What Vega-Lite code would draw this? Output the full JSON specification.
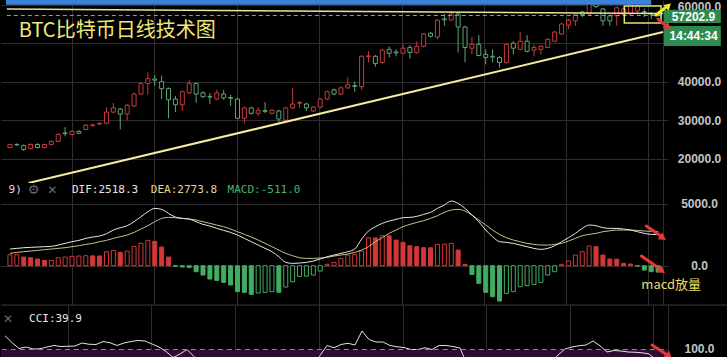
{
"$schema":"https://vega.github.io/schema/vega-lite/v6.json",
"background":"#000000",
"padding":0,
"spacing":0,
"bounds":"flush",
"config":{"view":{"stroke":null},"axis":{"domain":false,"ticks":false,"gridColor":"#2e2e2e","gridWidth":1,"labelColor":"#c4c4c4","labelFont":"Liberation Sans","labelFontSize":12,"labelFontWeight":"bold","labelPadding":31,"labelAlign":"center"}},
"datasets":{
"k":[
{"i":0,"o":22900,"h":23900,"l":22700,"c":23700},{"i":1,"o":23700,"h":24000,"l":23300,"c":23600},{"i":2,"o":23400,"h":23700,"l":22000,"c":22400},{"i":3,"o":22600,"h":24000,"l":22400,"c":23700},{"i":4,"o":23700,"h":24000,"l":22700,"c":22900},{"i":5,"o":22900,"h":23900,"l":22700,"c":23700},{"i":6,"o":23700,"h":24700,"l":23500,"c":24500},{"i":7,"o":24500,"h":26600,"l":24300,"c":26300},{"i":8,"o":26700,"h":28200,"l":25800,"c":26500},{"i":9,"o":26300,"h":27400,"l":26100,"c":27100},
{"i":10,"o":27100,"h":27400,"l":26400,"c":26600},{"i":11,"o":27600,"h":29000,"l":27400,"c":28700},{"i":12,"o":28600,"h":29100,"l":28300,"c":28800},{"i":13,"o":29000,"h":29500,"l":28800,"c":29200},{"i":14,"o":29200,"h":33400,"l":29000,"c":32100},{"i":15,"o":32100,"h":34500,"l":31800,"c":33200},{"i":16,"o":32900,"h":33200,"l":27600,"c":31600},{"i":17,"o":31600,"h":34200,"l":30000,"c":33900},{"i":18,"o":33700,"h":37200,"l":33400,"c":36800},{"i":19,"o":36800,"h":39900,"l":36500,"c":39500},
{"i":20,"o":39500,"h":42400,"l":36600,"c":40800},{"i":21,"o":40700,"h":41600,"l":38900,"c":40400},{"i":22,"o":40000,"h":41600,"l":35500,"c":38200},{"i":23,"o":38200,"h":38500,"l":30500,"c":35300},{"i":24,"o":35500,"h":36300,"l":32100,"c":34000},{"i":25,"o":34000,"h":37700,"l":32400,"c":37400},{"i":26,"o":37100,"h":40500,"l":36800,"c":39500},{"i":27,"o":39500,"h":39800,"l":34500,"c":36800},{"i":28,"o":37100,"h":37500,"l":35800,"c":36100},{"i":29,"o":36200,"h":37100,"l":34200,"c":36000},
{"i":30,"o":35500,"h":37900,"l":35200,"c":37100},{"i":31,"o":36800,"h":37900,"l":35300,"c":35800},{"i":32,"o":35900,"h":36600,"l":33700,"c":35700},{"i":33,"o":35500,"h":35800,"l":30300,"c":30500},{"i":34,"o":30500,"h":33500,"l":29200,"c":33200},{"i":35,"o":33200,"h":33500,"l":31500,"c":31800},{"i":36,"o":31800,"h":33400,"l":31100,"c":32600},{"i":37,"o":32500,"h":34700,"l":31800,"c":32300},{"i":38,"o":31800,"h":32900,"l":31500,"c":32600},{"i":39,"o":32400,"h":32700,"l":29500,"c":30300},
{"i":40,"o":30000,"h":33500,"l":29700,"c":33200},{"i":41,"o":33200,"h":38400,"l":32900,"c":34200},{"i":42,"o":34400,"h":35000,"l":33200,"c":34600},{"i":43,"o":34200,"h":34500,"l":32400,"c":33200},{"i":44,"o":32400,"h":33700,"l":32100,"c":33400},{"i":45,"o":33400,"h":35800,"l":33100,"c":35500},{"i":46,"o":35500,"h":37700,"l":35200,"c":37400},{"i":47,"o":37900,"h":38200,"l":36500,"c":36800},{"i":48,"o":36800,"h":38700,"l":36500,"c":38400},{"i":49,"o":38400,"h":41100,"l":38100,"c":39200},
{"i":50,"o":39000,"h":40000,"l":37400,"c":38800},{"i":51,"o":38700,"h":46900,"l":37900,"c":46600},{"i":52,"o":46500,"h":47900,"l":45000,"c":46700},{"i":53,"o":46600,"h":46900,"l":43900,"c":44700},{"i":54,"o":45000,"h":48500,"l":44700,"c":48200},{"i":55,"o":48400,"h":49200,"l":46300,"c":47400},{"i":56,"o":47700,"h":48400,"l":46600,"c":47500},{"i":57,"o":47400,"h":49700,"l":47100,"c":48700},{"i":58,"o":48900,"h":49500,"l":46000,"c":47600},{"i":59,"o":47600,"h":50500,"l":47300,"c":49200},
{"i":60,"o":49200,"h":52600,"l":48900,"c":52400},{"i":61,"o":52600,"h":52900,"l":51500,"c":51800},{"i":62,"o":51600,"h":56300,"l":51000,"c":56000},{"i":63,"o":56300,"h":57600,"l":54500,"c":56100},{"i":64,"o":56000,"h":58400,"l":55800,"c":57600},{"i":65,"o":57600,"h":57900,"l":47600,"c":54200},{"i":66,"o":54200,"h":54500,"l":45000,"c":48900},{"i":67,"o":48700,"h":51600,"l":47100,"c":49700},{"i":68,"o":49700,"h":52100,"l":46600,"c":46800},{"i":69,"o":47100,"h":48400,"l":44500,"c":46300},
{"i":70,"o":46600,"h":48400,"l":45000,"c":46400},{"i":71,"o":46300,"h":46600,"l":43700,"c":45000},{"i":72,"o":45000,"h":50000,"l":44700,"c":49700},{"i":73,"o":50000,"h":50500,"l":47100,"c":48700},{"i":74,"o":48400,"h":52900,"l":48200,"c":50500},{"i":75,"o":50500,"h":52100,"l":47600,"c":47900},{"i":76,"o":48200,"h":49700,"l":46600,"c":48900},{"i":77,"o":48400,"h":49500,"l":47100,"c":49200},{"i":78,"o":48900,"h":51300,"l":48700,"c":51000},{"i":79,"o":50500,"h":53200,"l":50300,"c":52900},
{"i":80,"o":52400,"h":55300,"l":52100,"c":55000},{"i":81,"o":54700,"h":56300,"l":53700,"c":56000},{"i":82,"o":55800,"h":57900,"l":54500,"c":57600},{"i":83,"o":58100,"h":58400,"l":56800,"c":57400},{"i":84,"o":57600,"h":61000,"l":57400,"c":60800},{"i":85,"o":61200,"h":61300,"l":59200,"c":59500},{"i":86,"o":58900,"h":59200,"l":54500,"c":55800},{"i":87,"o":57100,"h":57400,"l":54500,"c":55800},{"i":88,"o":57100,"h":59500,"l":54500,"c":59200},{"i":89,"o":57400,"h":59500,"l":57100,"c":58900},
{"i":90,"o":57600,"h":60300,"l":57400,"c":60000},{"i":91,"o":58400,"h":60000,"l":57900,"c":59700},{"i":92,"o":58200,"h":59000,"l":56800,"c":58000},{"i":93,"o":57700,"h":58100,"l":56300,"c":57500},{"i":94,"o":57500,"h":57900,"l":56900,"c":57203}
],
"m":[
{"i":0,"dif":1350,"dea":999,"macd":880},{"i":1,"dif":1404,"dea":1080,"macd":890},{"i":2,"dif":1458,"dea":1134,"macd":702},{"i":3,"dif":1485,"dea":1188,"macd":648},{"i":4,"dif":1512,"dea":1242,"macd":540},{"i":5,"dif":1539,"dea":1296,"macd":420},{"i":6,"dif":1566,"dea":1350,"macd":430},{"i":7,"dif":1674,"dea":1404,"macd":648},{"i":8,"dif":1809,"dea":1458,"macd":702},{"i":9,"dif":1944,"dea":1539,"macd":756},
{"i":10,"dif":2052,"dea":1620,"macd":783},{"i":11,"dif":2214,"dea":1728,"macd":810},{"i":12,"dif":2322,"dea":1809,"macd":800},{"i":13,"dif":2403,"dea":1944,"macd":790},{"i":14,"dif":2592,"dea":2052,"macd":1134},{"i":15,"dif":2889,"dea":2214,"macd":1242},{"i":16,"dif":3078,"dea":2349,"macd":1080},{"i":17,"dif":3240,"dea":2484,"macd":1188},{"i":18,"dif":3564,"dea":2700,"macd":1566},{"i":19,"dif":3969,"dea":2970,"macd":1809},
{"i":20,"dif":4374,"dea":3240,"macd":2052},{"i":21,"dif":4644,"dea":3564,"macd":1971},{"i":22,"dif":4563,"dea":3834,"macd":1512},{"i":23,"dif":4239,"dea":3915,"macd":702},{"i":24,"dif":3942,"dea":3888,"macd":-54},{"i":25,"dif":3834,"dea":3834,"macd":-108},{"i":26,"dif":3780,"dea":3780,"macd":-150},{"i":27,"dif":3564,"dea":3699,"macd":-486},{"i":28,"dif":3348,"dea":3564,"macd":-756},{"i":29,"dif":3213,"dea":3429,"macd":-1080},
{"i":30,"dif":3024,"dea":3294,"macd":-1188},{"i":31,"dif":2862,"dea":3159,"macd":-1350},{"i":32,"dif":2700,"dea":2970,"macd":-1566},{"i":33,"dif":2484,"dea":2754,"macd":-2106},{"i":34,"dif":2214,"dea":2538,"macd":-2160},{"i":35,"dif":1944,"dea":2322,"macd":-2322},{"i":36,"dif":1674,"dea":2079,"macd":-2214},{"i":37,"dif":1404,"dea":1809,"macd":-2160},{"i":38,"dif":1134,"dea":1539,"macd":-2106},{"i":39,"dif":729,"dea":1269,"macd":-2150},
{"i":40,"dif":270,"dea":999,"macd":-1728},{"i":41,"dif":189,"dea":810,"macd":-1296},{"i":42,"dif":216,"dea":648,"macd":-864},{"i":43,"dif":270,"dea":594,"macd":-850},{"i":44,"dif":378,"dea":594,"macd":-756},{"i":45,"dif":540,"dea":621,"macd":-432},{"i":46,"dif":729,"dea":675,"macd":108},{"i":47,"dif":864,"dea":783,"macd":270},{"i":48,"dif":999,"dea":864,"macd":594},{"i":49,"dif":1134,"dea":945,"macd":864},
{"i":50,"dif":1350,"dea":1080,"macd":918},{"i":51,"dif":2150,"dea":1269,"macd":1188},{"i":52,"dif":2808,"dea":1539,"macd":2268},{"i":53,"dif":3159,"dea":1944,"macd":2250},{"i":54,"dif":3429,"dea":2268,"macd":2430},{"i":55,"dif":3618,"dea":2619,"macd":2420},{"i":56,"dif":3753,"dea":2889,"macd":2079},{"i":57,"dif":3888,"dea":3159,"macd":1890},{"i":58,"dif":3915,"dea":3348,"macd":1620},{"i":59,"dif":3996,"dea":3510,"macd":1539},
{"i":60,"dif":4158,"dea":3645,"macd":1458},{"i":61,"dif":4320,"dea":3834,"macd":1450},{"i":62,"dif":4644,"dea":4050,"macd":1728},{"i":63,"dif":4914,"dea":4320,"macd":1740},{"i":64,"dif":5238,"dea":4509,"macd":1809},{"i":65,"dif":5049,"dea":4563,"macd":1269},{"i":66,"dif":4644,"dea":4428,"macd":108},{"i":67,"dif":4104,"dea":4104,"macd":-702},{"i":68,"dif":3564,"dea":3699,"macd":-1431},{"i":69,"dif":2889,"dea":3294,"macd":-2160},
{"i":70,"dif":2349,"dea":2889,"macd":-2511},{"i":71,"dif":1944,"dea":2538,"macd":-2862},{"i":72,"dif":1890,"dea":2268,"macd":-2241},{"i":73,"dif":1809,"dea":2079,"macd":-2106},{"i":74,"dif":1674,"dea":1944,"macd":-1701},{"i":75,"dif":1539,"dea":1809,"macd":-1620},{"i":76,"dif":1404,"dea":1728,"macd":-1512},{"i":77,"dif":1323,"dea":1674,"macd":-1350},{"i":78,"dif":1404,"dea":1674,"macd":-756},{"i":79,"dif":1620,"dea":1728,"macd":-486},
{"i":80,"dif":1944,"dea":1809,"macd":108},{"i":81,"dif":2268,"dea":1998,"macd":378},{"i":82,"dif":2619,"dea":2214,"macd":864},{"i":83,"dif":3024,"dea":2430,"macd":1134},{"i":84,"dif":3294,"dea":2538,"macd":1593},{"i":85,"dif":3240,"dea":2619,"macd":1539},{"i":86,"dif":3078,"dea":2754,"macd":864},{"i":87,"dif":3024,"dea":2835,"macd":540},{"i":88,"dif":3024,"dea":2889,"macd":530},{"i":89,"dif":2970,"dea":2889,"macd":189},
{"i":90,"dif":2889,"dea":2889,"macd":135},{"i":91,"dif":2754,"dea":2862,"macd":-30},{"i":92,"dif":2619,"dea":2808,"macd":-351},{"i":93,"dif":2538,"dea":2781,"macd":-486},{"i":94,"dif":2518.3,"dea":2773.8,"macd":-511}
],
"q":[
{"i":0,"cci":155},{"i":1,"cci":128},{"i":2,"cci":104},{"i":3,"cci":110},{"i":4,"cci":102},{"i":5,"cci":103},{"i":6,"cci":110},{"i":7,"cci":116},{"i":8,"cci":112},{"i":9,"cci":113},
{"i":10,"cci":114},{"i":11,"cci":126},{"i":12,"cci":121},{"i":13,"cci":120},{"i":14,"cci":132},{"i":15,"cci":127},{"i":16,"cci":116},{"i":17,"cci":126},{"i":18,"cci":132},{"i":19,"cci":136},
{"i":20,"cci":134},{"i":21,"cci":122},{"i":22,"cci":110},{"i":23,"cci":92},{"i":24,"cci":68},{"i":25,"cci":82},{"i":26,"cci":100},{"i":27,"cci":72},{"i":28,"cci":20},{"i":29,"cci":-40},
{"i":30,"cci":-90},{"i":31,"cci":-120},{"i":32,"cci":-100},{"i":33,"cci":-150},{"i":34,"cci":-170},{"i":35,"cci":-140},{"i":36,"cci":-110},{"i":37,"cci":-90},{"i":38,"cci":-60},{"i":39,"cci":-80},
{"i":40,"cci":-110},{"i":41,"cci":-60},{"i":42,"cci":-20},{"i":43,"cci":10},{"i":44,"cci":40},{"i":45,"cci":76},{"i":46,"cci":116},{"i":47,"cci":107},{"i":48,"cci":120},{"i":49,"cci":125},
{"i":50,"cci":118},{"i":51,"cci":174},{"i":52,"cci":140},{"i":53,"cci":130},{"i":54,"cci":130},{"i":55,"cci":116},{"i":56,"cci":111},{"i":57,"cci":108},{"i":58,"cci":100},{"i":59,"cci":100},
{"i":60,"cci":107},{"i":61,"cci":100},{"i":62,"cci":116},{"i":63,"cci":116},{"i":64,"cci":112},{"i":65,"cci":106},{"i":66,"cci":40},{"i":67,"cci":-30},{"i":68,"cci":-90},{"i":69,"cci":-140},
{"i":70,"cci":-160},{"i":71,"cci":-130},{"i":72,"cci":-90},{"i":73,"cci":-60},{"i":74,"cci":-40},{"i":75,"cci":-50},{"i":76,"cci":-20},{"i":77,"cci":10},{"i":78,"cci":45},{"i":79,"cci":78},
{"i":80,"cci":102},{"i":81,"cci":110},{"i":82,"cci":115},{"i":83,"cci":118},{"i":84,"cci":134},{"i":85,"cci":115},{"i":86,"cci":90},{"i":87,"cci":96},{"i":88,"cci":94},{"i":89,"cci":90},
{"i":90,"cci":89},{"i":91,"cci":87},{"i":92,"cci":82},{"i":93,"cci":60},{"i":94,"cci":39.9}
]
},
"vconcat":[
{
"width":667,"height":183,
"layer":[
{"data":{"name":"k"},"mark":{"type":"rule","clip":true,"strokeWidth":1},
 "encoding":{
  "x":{"field":"i","type":"quantitative","scale":{"domain":[-0.571,94.71],"nice":false,"zero":false},"axis":{"values":[8.95,20.9,32.9,44.8,56.8,68.7,80.7,92.6,94.7],"grid":true,"labels":false,"ticks":false,"domain":false,"title":null}},
  "y":{"field":"l","type":"quantitative","scale":{"domain":[13688,61221],"nice":false,"zero":false},"axis":{"orient":"right","values":[20000,30000,40000,50000,60000],"format":".1f","labelOffset":{"condition":{"test":"datum.value == 60000","value":2},"value":0},"labelExpr":"datum.value == 50000 ? '' : datum.label","title":null}},
  "y2":{"field":"h"},
  "stroke":{"condition":{"test":"datum.c >= datum.o","value":"#c43c3c"},"value":"#5aa874"}}},
{"data":{"name":"k"},"mark":{"type":"bar","clip":true,"width":4,"fill":"#000000","strokeWidth":1},
 "encoding":{
  "x":{"field":"i","type":"quantitative"},
  "y":{"field":"o","type":"quantitative"},
  "y2":{"field":"c"},
  "stroke":{"condition":{"test":"datum.c >= datum.o","value":"#c43c3c"},"value":"#5aa874"}}},
{"data":{"values":[{}]},"mark":{"type":"rect","fill":"#3b82d6"},
 "encoding":{"x":{"datum":-0.571},"x2":{"datum":93.0},"y":{"datum":60000},"y2":{"datum":61221}}},
{"data":{"values":[{}]},"mark":{"type":"rule","stroke":"#e9e29a","strokeWidth":1.5},
 "encoding":{"x":{"datum":-0.45},"x2":{"datum":94.71},"y":{"datum":58870},"y2":{"datum":57700}}},
{"data":{"values":[{}]},"mark":{"type":"rule","stroke":"#9a9a9a","strokeWidth":1,"strokeDash":[4,3]},
 "encoding":{"x":{"datum":-0.45},"x2":{"datum":94.71},"y":{"datum":57202.9}}},
{"data":{"values":[{}]},"mark":{"type":"rule","stroke":"#f3ec9a","strokeWidth":2,"clip":true},
 "encoding":{"x":{"datum":2.7},"x2":{"datum":94.71},"y":{"datum":13688},"y2":{"datum":52900}}},
{"data":{"values":[{}]},"mark":{"type":"rect","fillOpacity":0,"stroke":"#e8e070","strokeWidth":1.5},
 "encoding":{"x":{"datum":89.1},"x2":{"datum":94.43},"y":{"datum":55250},"y2":{"datum":59650}}},
{"data":{"values":[{}]},"mark":{"type":"rect","fill":"#2e8b50"},
 "encoding":{"x":{"datum":94.86},"x2":{"datum":103.1},"y":{"datum":55250},"y2":{"datum":58700}}},
{"data":{"values":[{}]},"mark":{"type":"rect","fill":"#2e8b50"},
 "encoding":{"x":{"datum":94.86},"x2":{"datum":103.1},"y":{"datum":49300},"y2":{"datum":54470}}},
{"data":{"values":[{}]},"mark":{"type":"text","text":"57202.9","align":"center","baseline":"middle","font":"Liberation Sans","fontSize":12,"fontWeight":"bold","fill":"#ffffff"},
 "encoding":{"x":{"datum":99.14},"y":{"datum":56850}}},
{"data":{"values":[{}]},"mark":{"type":"text","text":"14:44:34","align":"center","baseline":"middle","font":"Liberation Sans","fontSize":12,"fontWeight":"bold","fill":"#ffffff"},
 "encoding":{"x":{"datum":99.14},"y":{"datum":51880}}},
{"data":{"values":[{}]},"mark":{"type":"rule","stroke":"#f2ea2a","strokeWidth":3,"strokeCap":"round"},
 "encoding":{"x":{"datum":93.7},"x2":{"datum":95.2},"y":{"datum":57320},"y2":{"datum":59450}}},
{"data":{"values":[{}]},"mark":{"type":"point","shape":"triangle-up","filled":true,"fill":"#f2ea2a","size":60,"angle":47,"opacity":1},
 "encoding":{"x":{"datum":95.5},"y":{"datum":59750}}},
{"data":{"values":[{}]},"mark":{"type":"rule","stroke":"#e53935","strokeWidth":3,"strokeCap":"round"},
 "encoding":{"x":{"datum":93.99},"x2":{"datum":95.2},"y":{"datum":56280},"y2":{"datum":54450}}},
{"data":{"values":[{}]},"mark":{"type":"point","shape":"triangle-up","filled":true,"fill":"#e53935","size":70,"angle":129,"opacity":1},
 "encoding":{"x":{"datum":95.43},"y":{"datum":54200}}},
{"data":{"values":[{}]},"mark":{"type":"text","text":"BTC比特币日线技术图","align":"left","baseline":"middle","font":"Noto Sans CJK SC","fontSize":20,"fill":"#efe77a"},
 "encoding":{"x":{"datum":1.29},"y":{"datum":53200}}}
]
},
{
"width":667,"height":122,
"layer":[
{"data":{"name":"m"},
 "transform":[{"window":[{"op":"lag","field":"macd","as":"prev"}],"sort":[{"field":"i","order":"ascending"}]}],
 "mark":{"type":"bar","width":4,"strokeWidth":1},
 "encoding":{
  "x":{"field":"i","type":"quantitative","scale":{"domain":[-0.571,94.71],"nice":false,"zero":false},"axis":{"values":[8.95,20.9,32.9,44.8,56.8,68.7,80.7,92.6,94.7],"grid":true,"labels":false,"ticks":false,"domain":false,"title":null}},
  "y":{"field":"macd","type":"quantitative","scale":{"domain":[-3183,6700],"nice":false,"zero":false},"axis":{"orient":"right","values":[0,5000],"format":".1f","title":null}},
  "y2":{"datum":0},
  "stroke":{"condition":{"test":"datum.macd >= 0","value":"#d23838"},"value":"#42ad62"},
  "fill":{"condition":[{"test":"datum.prev != null && datum.macd < datum.prev && datum.macd >= 0","value":"#d23838"},{"test":"datum.prev != null && datum.macd < datum.prev && datum.macd < 0","value":"#42ad62"}],"value":"#000000"}}},
{"data":{"name":"m"},"mark":{"type":"line","stroke":"#c9c18c","strokeWidth":1,"interpolate":"monotone"},
 "encoding":{"x":{"field":"i","type":"quantitative"},"y":{"field":"dea","type":"quantitative"}}},
{"data":{"name":"m"},"mark":{"type":"line","stroke":"#e6e6e6","strokeWidth":1,"interpolate":"monotone"},
 "encoding":{"x":{"field":"i","type":"quantitative"},"y":{"field":"dif","type":"quantitative"}}},
{"data":{"values":[{}]},"mark":{"type":"text","text":"9)","align":"left","baseline":"middle","font":"DejaVu Sans Mono","fontSize":11,"fill":"#dddddd"},
 "encoding":{"x":{"datum":-0.2},"y":{"datum":6132}}},
{"data":{"values":[{}]},"mark":{"type":"text","text":"⚙","align":"center","baseline":"middle","font":"DejaVu Sans","fontSize":13,"fill":"#6a6a6a"},
 "encoding":{"x":{"datum":3.43},"y":{"datum":6132}}},
{"data":{"values":[{}]},"mark":{"type":"text","text":"✕","align":"center","baseline":"middle","font":"DejaVu Sans","fontSize":12,"fill":"#6a6a6a"},
 "encoding":{"x":{"datum":6.14},"y":{"datum":6132}}},
{"data":{"values":[{}]},"mark":{"type":"text","text":"DIF:2518.3","align":"left","baseline":"middle","font":"DejaVu Sans Mono","fontSize":11,"fill":"#e6e6e6"},
 "encoding":{"x":{"datum":9.0},"y":{"datum":6132}}},
{"data":{"values":[{}]},"mark":{"type":"text","text":"DEA:2773.8","align":"left","baseline":"middle","font":"DejaVu Sans Mono","fontSize":11,"fill":"#e3d796"},
 "encoding":{"x":{"datum":20.43},"y":{"datum":6132}}},
{"data":{"values":[{}]},"mark":{"type":"text","text":"MACD:-511.0","align":"left","baseline":"middle","font":"DejaVu Sans Mono","fontSize":11,"fill":"#4caf6a"},
 "encoding":{"x":{"datum":31.57},"y":{"datum":6132}}},
{"data":{"values":[{}]},"mark":{"type":"rule","stroke":"#e53935","strokeWidth":3,"strokeCap":"round"},
 "encoding":{"x":{"datum":92.29},"x2":{"datum":94.4},"y":{"datum":3216},"y2":{"datum":2400}}},
{"data":{"values":[{}]},"mark":{"type":"point","shape":"triangle-up","filled":true,"fill":"#e53935","size":70,"angle":125,"opacity":1},
 "encoding":{"x":{"datum":94.71},"y":{"datum":2244}}},
{"data":{"values":[{}]},"mark":{"type":"rule","stroke":"#e53935","strokeWidth":3,"strokeCap":"round"},
 "encoding":{"x":{"datum":91.57},"x2":{"datum":94.3},"y":{"datum":786},"y2":{"datum":-260}}},
{"data":{"values":[{}]},"mark":{"type":"point","shape":"triangle-up","filled":true,"fill":"#e53935","size":70,"angle":125,"opacity":1},
 "encoding":{"x":{"datum":94.57},"y":{"datum":-429}}},
{"data":{"values":[{}]},"mark":{"type":"text","text":"macd放量","align":"left","baseline":"middle","font":"Noto Sans CJK SC","fontSize":13,"fill":"#e8de6a"},
 "encoding":{"x":{"datum":91.57},"y":{"datum":-1563}}}
]
},
{
"width":667,"height":52,
"layer":[
{"data":{"values":[{}]},"mark":{"type":"rect","fill":"#2e0c30"},
 "encoding":{"x":{"datum":-0.571},"x2":{"datum":94.71},"y":{"datum":100},"y2":{"datum":70}}},
{"data":{"name":"q"},"mark":{"type":"line","stroke":"#e2e2e2","strokeWidth":1,"clip":true},
 "encoding":{
  "x":{"field":"i","type":"quantitative","scale":{"domain":[-0.571,94.71],"nice":false,"zero":false},"axis":{"values":[8.95,20.9,32.9,44.8,56.8,68.7,80.7,92.6,94.7],"grid":true,"labels":false,"ticks":false,"domain":false,"title":null}},
  "y":{"field":"cci","type":"quantitative","scale":{"domain":[70,278],"nice":false,"zero":false},"axis":{"orient":"right","values":[100],"format":".1f","labelOffset":-1,"grid":false,"title":null}}}},
{"data":{"values":[{}]},"mark":{"type":"rule","stroke":"#8f8299","strokeWidth":1,"strokeDash":[5,4]},
 "encoding":{"x":{"datum":-0.45},"x2":{"datum":94.71},"y":{"datum":100}}},
{"data":{"values":[{}]},"mark":{"type":"rule","stroke":"#3a3a3a","strokeWidth":1},
 "encoding":{"x":{"datum":-0.5},"x2":{"datum":103.1},"y":{"datum":277.7}}},
{"data":{"values":[{}]},"mark":{"type":"text","text":"✕","align":"center","baseline":"middle","font":"DejaVu Sans","fontSize":12,"fill":"#6a6a6a"},
 "encoding":{"x":{"datum":0.43},"y":{"datum":222}}},
{"data":{"values":[{}]},"mark":{"type":"text","text":"CCI:39.9","align":"left","baseline":"middle","font":"DejaVu Sans Mono","fontSize":11,"fill":"#e6e6e6"},
 "encoding":{"x":{"datum":3.43},"y":{"datum":222}}},
{"data":{"values":[{}]},"mark":{"type":"rule","stroke":"#e53935","strokeWidth":3,"strokeCap":"round"},
 "encoding":{"x":{"datum":92.43},"x2":{"datum":94.5},"y":{"datum":118},"y2":{"datum":80}}},
{"data":{"values":[{}]},"mark":{"type":"point","shape":"triangle-up","filled":true,"fill":"#e53935","size":70,"angle":133,"opacity":1},
 "encoding":{"x":{"datum":94.86},"y":{"datum":73}}}
]
}
]
}
